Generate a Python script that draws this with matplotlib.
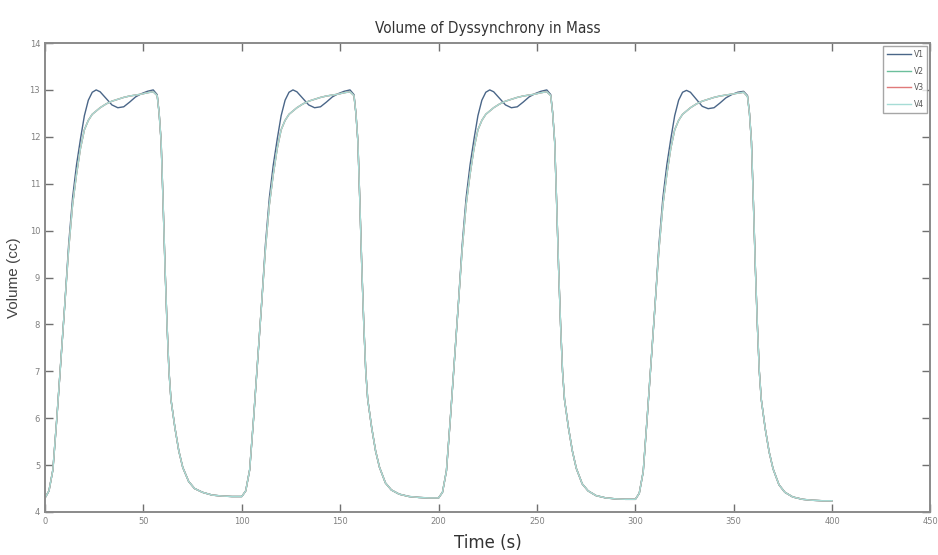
import matplotlib
matplotlib.use('Agg')
import matplotlib.pyplot as plt

# time points (s)
time_s = [0, 2, 4, 6, 8, 10, 12, 14, 16, 18, 20, 22, 24, 26, 28, 31, 34, 37, 40, 43, 46, 49, 52, 55,
          57, 58, 59, 60, 61, 62, 63, 64, 66, 68, 70, 73, 76, 80, 85, 90, 95,
          100, 102, 104, 106, 108, 110, 112, 114, 116, 118, 120, 122, 124, 126, 128, 131, 134, 137, 140, 143, 146, 149, 152, 155,
          157, 158, 159, 160, 161, 162, 163, 164, 166, 168, 170, 173, 176, 180, 185, 190, 195,
          200, 202, 204, 206, 208, 210, 212, 214, 216, 218, 220, 222, 224, 226, 228, 231, 234, 237, 240, 243, 246, 249, 252, 255,
          257, 258, 259, 260, 261, 262, 263, 264, 266, 268, 270, 273, 276, 280, 285, 290, 295,
          300, 302, 304, 306, 308, 310, 312, 314, 316, 318, 320, 322, 324, 326, 328, 331, 334, 337, 340, 343, 346, 349, 352, 355,
          357, 358, 359, 360, 361, 362, 363, 364, 366, 368, 370, 373, 376, 380, 385, 390, 395, 400]

# V1: dark curve with the overshoot / dip on each plateau
v1 = [4.30, 4.45, 4.90, 6.00, 7.20, 8.40, 9.70, 10.70, 11.40, 11.95, 12.45, 12.78, 12.95, 13.00, 12.96, 12.82, 12.68, 12.62, 12.64, 12.74, 12.85, 12.92, 12.97, 13.00,
      12.90, 12.50, 11.90, 10.60, 9.20, 8.00, 7.00, 6.40, 5.80, 5.30, 4.95, 4.65, 4.50, 4.42, 4.36, 4.34, 4.33,
      4.33, 4.45, 4.90, 6.00, 7.20, 8.40, 9.70, 10.70, 11.40, 11.95, 12.45, 12.78, 12.95, 13.00, 12.96, 12.82, 12.68, 12.62, 12.64, 12.74, 12.85, 12.92, 12.97, 13.00,
      12.90, 12.50, 11.90, 10.60, 9.20, 8.00, 7.00, 6.40, 5.80, 5.30, 4.95, 4.62, 4.47, 4.38, 4.33, 4.31, 4.30,
      4.30, 4.42, 4.88, 6.00, 7.20, 8.40, 9.70, 10.70, 11.40, 11.95, 12.45, 12.78, 12.95, 13.00, 12.96, 12.82, 12.68, 12.62, 12.64, 12.74, 12.85, 12.92, 12.97, 13.00,
      12.90, 12.50, 11.90, 10.60, 9.20, 8.00, 7.00, 6.40, 5.80, 5.30, 4.93, 4.60, 4.45, 4.35, 4.30, 4.28, 4.27,
      4.27, 4.40, 4.86, 6.00, 7.20, 8.40, 9.70, 10.70, 11.40, 11.95, 12.45, 12.78, 12.95, 12.99, 12.95, 12.80, 12.65, 12.60, 12.62, 12.72, 12.83, 12.90, 12.95, 12.97,
      12.88, 12.50, 11.90, 10.60, 9.20, 8.00, 7.00, 6.40, 5.78, 5.28, 4.92, 4.58, 4.42, 4.32, 4.27, 4.25, 4.24, 4.24]

# V2-V4: smoother curves, drawn on top of each other
v_smooth = [4.30, 4.45, 4.90, 6.00, 7.20, 8.40, 9.60, 10.55, 11.20, 11.75, 12.15, 12.35, 12.48, 12.55, 12.62, 12.70, 12.76, 12.80, 12.84, 12.87, 12.89, 12.91, 12.94, 12.96,
            12.88, 12.50, 11.90, 10.60, 9.20, 8.00, 7.00, 6.40, 5.80, 5.30, 4.95, 4.65, 4.50, 4.42, 4.36, 4.34, 4.33,
            4.33, 4.45, 4.90, 6.00, 7.20, 8.40, 9.60, 10.55, 11.20, 11.75, 12.15, 12.35, 12.48, 12.55, 12.62, 12.70, 12.76, 12.80, 12.84, 12.87, 12.89, 12.91, 12.94, 12.96,
            12.88, 12.50, 11.90, 10.60, 9.20, 8.00, 7.00, 6.40, 5.80, 5.30, 4.95, 4.62, 4.47, 4.38, 4.33, 4.31, 4.30,
            4.30, 4.42, 4.88, 6.00, 7.20, 8.40, 9.60, 10.55, 11.20, 11.75, 12.15, 12.35, 12.48, 12.55, 12.62, 12.70, 12.76, 12.80, 12.84, 12.87, 12.89, 12.91, 12.94, 12.96,
            12.88, 12.50, 11.90, 10.60, 9.20, 8.00, 7.00, 6.40, 5.80, 5.30, 4.93, 4.60, 4.45, 4.35, 4.30, 4.28, 4.27,
            4.27, 4.40, 4.86, 6.00, 7.20, 8.40, 9.60, 10.55, 11.20, 11.75, 12.15, 12.35, 12.48, 12.55, 12.62, 12.70, 12.76, 12.80, 12.84, 12.87, 12.89, 12.91, 12.93, 12.95,
            12.86, 12.50, 11.90, 10.60, 9.20, 8.00, 7.00, 6.40, 5.78, 5.28, 4.92, 4.58, 4.42, 4.32, 4.27, 4.25, 4.24, 4.24]
v2 = list(v_smooth)
v3 = list(v_smooth)
v4 = list(v_smooth)

series_names = ['V1', 'V2', 'V3', 'V4']
series_colors = ['#4a6688', '#6cbf9c', '#e07a7a', '#a6dcd6']

x_ticks = [0, 50, 100, 150, 200, 250, 300, 350, 400, 450]
y_ticks = [4, 5, 6, 7, 8, 9, 10, 11, 12, 13, 14]

narrow = ['Liberation Sans Narrow', 'DejaVu Sans']

fig = plt.figure(figsize=(9.38, 5.55), dpi=100)
ax = fig.add_axes([0.048, 0.0775, 0.944, 0.845])

for vals, name, col in zip([v1, v2, v3, v4], series_names, series_colors):
    ax.plot(time_s, vals, color=col, linewidth=1.0, label=name)

ax.set_xlim(0, 450)
ax.set_ylim(4, 14)
ax.set_xticks(x_ticks)
ax.set_yticks(y_ticks)
ax.tick_params(direction='in', length=6, width=1, colors='#707070', labelcolor='#808080',
               labelsize=6, top=True, right=True)
for lbl in ax.get_xticklabels() + ax.get_yticklabels():
    lbl.set_family(narrow)
for sp in ax.spines.values():
    sp.set_color('#8a8a8a')
    sp.set_linewidth(1.4)

ax.set_title('Volume of Dyssynchrony in Mass', family=narrow, fontstretch='condensed',
             fontsize=11, color='#333333', pad=7)
ax.set_xlabel('Time (s)', family=narrow, fontsize=12, color='#333333', labelpad=6)
ax.set_ylabel('Volume (cc)', family=['Liberation Sans', 'DejaVu Sans'], fontsize=11,
              color='#444444', labelpad=6)

leg = ax.legend(loc='upper right', fontsize=5.5, handlelength=3.2, labelspacing=1.0,
                borderaxespad=0.4, fancybox=False, frameon=True, borderpad=0.5,
                handletextpad=0.3)
leg.get_frame().set_edgecolor('#909090')
leg.get_frame().set_linewidth(1.0)
for t in leg.get_texts():
    t.set_color('#555555')

fig.savefig('out.png', dpi=100)
